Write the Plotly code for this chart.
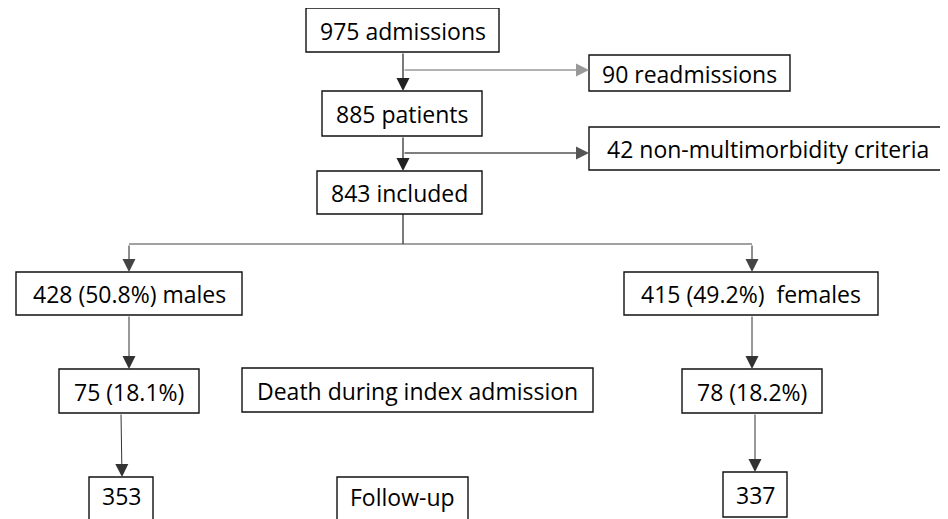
import plotly.graph_objects as go

# ---- data (flowchart content) ----
labels = ["975 admissions", "90 readmissions", "885 patients", "42 non-multimorbidity criteria",
          "843 included", "428 (50.8%) males", "415 (49.2%)  females", "75 (18.1%)",
          "Death during index admission", "78 (18.2%)", "353", "Follow-up", "337"]

# ---- layout geometry (pixels, x right, y down) ----
boxes = [  # x0, y0, x1, y1
    (306, 8, 499, 52),
    (589, 55, 790, 91),
    (322, 91, 482, 136),
    (589, 127, 947, 170),
    (317, 171, 482, 214),
    (16, 272, 242, 315),
    (624, 272, 878, 315),
    (59, 369, 199, 413),
    (242, 368, 593, 412),
    (682, 369, 822, 413),
    (89, 477, 153, 530),
    (337, 477, 468, 530),
    (723, 472, 787, 517),
]
text_y = [31, 74, 114, 149, 193, 294, 294, 391.5, 390.5, 391.5, 496, 497, 495]

# plain lines (no arrowhead): (x0,y0,x1,y1,color,width)
lines = [
    (403, 214, 403, 244, "#222", 1.2),
    (129, 244, 752, 244, "#444", 1.2),
]
# arrows: tail -> tip, color, width
arrows = [
    (403, 52, 403, 91, "#222", 1.2),
    (403, 70, 589, 70, "#999", 1.6),
    (403, 136, 403, 171, "#222", 1.2),
    (403, 153, 589, 153, "#555", 1.4),
    (129, 244, 129, 272, "#444", 1.2),
    (752, 244, 752, 272, "#444", 1.2),
    (129, 315, 129, 369, "#333", 1.0),
    (752, 315, 752, 369, "#333", 1.0),
    (121, 413, 122, 477, "#333", 1.0),
    (755, 413, 755, 472, "#333", 1.0),
]

FONT = "Open Sans"
OFF = 8  # page body margin compensation
fig = go.Figure()
fig.add_trace(go.Scatter(x=[OFF, 948], y=[OFF, 519], mode="markers",
                         marker=dict(opacity=0), hoverinfo="skip", showlegend=False))

shapes = []
annotations = []
for (x0, y0, x1, y1), lab, ty in zip(boxes, labels, text_y):
    shapes.append(dict(type="rect", xref="x", yref="y", x0=x0, y0=y0, x1=x1, y1=y1,
                       line=dict(color="#111", width=1.4), fillcolor="white", layer="above"))
    annotations.append(dict(x=(x0 + x1) / 2, y=ty, xref="x", yref="y", text=lab,
                            showarrow=False, font=dict(family=FONT, size=23, color="#000"),
                            xanchor="center", yanchor="middle"))
for x0, y0, x1, y1, c, w in lines:
    shapes.append(dict(type="line", xref="x", yref="y", x0=x0, y0=y0, x1=x1, y1=y1,
                       line=dict(color=c, width=w), layer="below"))
for x0, y0, x1, y1, c, w in arrows:
    annotations.append(dict(x=x1, y=y1, ax=x0, ay=y0, xref="x", yref="y", axref="x", ayref="y",
                            text="", showarrow=True, arrowhead=2, arrowsize=2.6 / w,
                            arrowwidth=w, arrowcolor=c, standoff=0, startstandoff=0))

fig.update_layout(
    width=948 - OFF, height=519 - OFF, margin=dict(l=0, r=0, t=0, b=0),
    paper_bgcolor="white", plot_bgcolor="white",
    xaxis=dict(range=[OFF, 948], visible=False, fixedrange=True),
    yaxis=dict(range=[519, OFF], visible=False, fixedrange=True),
    shapes=shapes, annotations=annotations, showlegend=False,
)
fig.write_html("out.html")
